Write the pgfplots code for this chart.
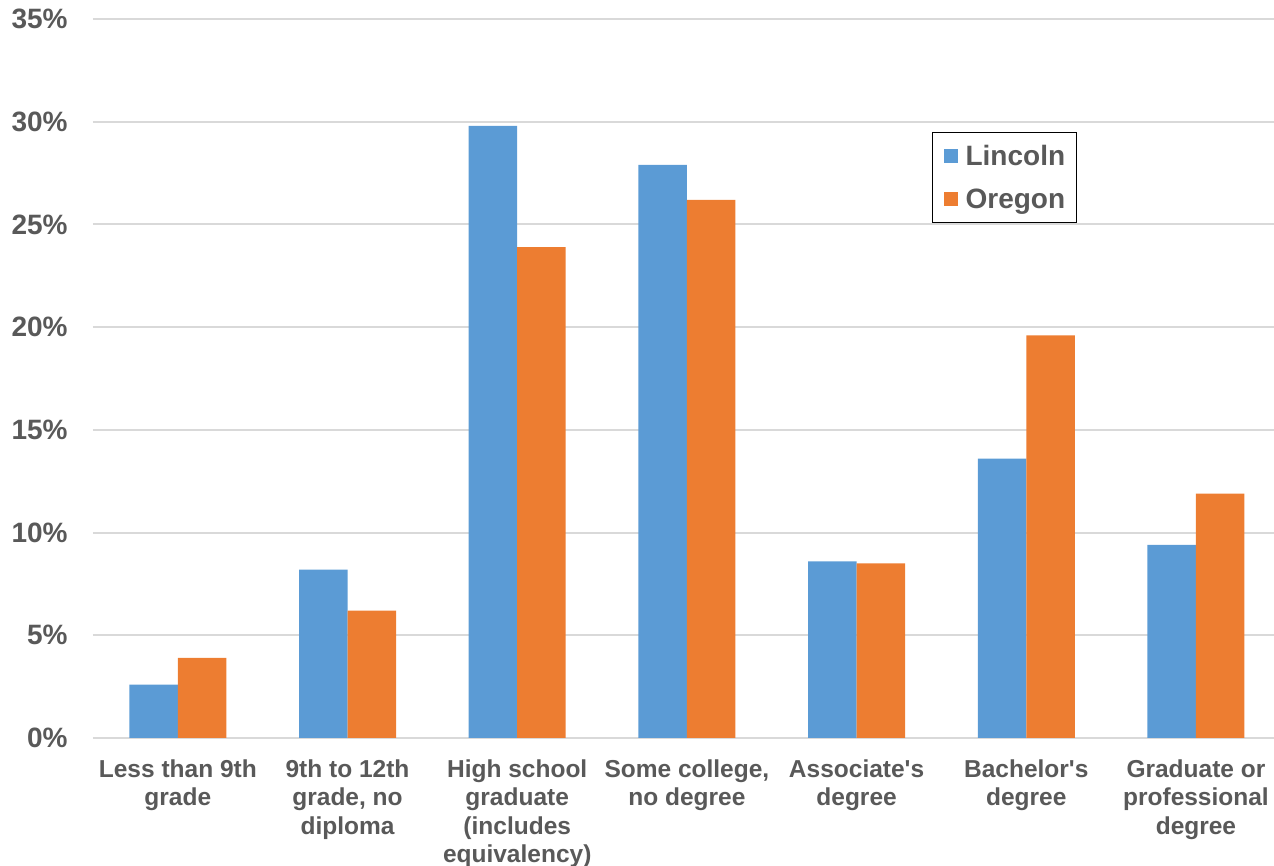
\documentclass[border=0pt]{standalone}
\usepackage{fontspec}
\setmainfont{Liberation Sans}
\usepackage{pgfplots}
\pgfplotsset{compat=1.18}
\definecolor{lincoln}{HTML}{5B9BD5}
\definecolor{oregon}{HTML}{ED7D31}
\definecolor{txt}{HTML}{595959}
\definecolor{gridc}{HTML}{D9D9D9}
\begin{document}
\begin{tikzpicture}
\useasboundingbox (-46.5pt,-64pt) rectangle (590.5pt,369pt);
\begin{axis}[
  at={(0,0)}, anchor=south west,
  scale only axis, width=590.5pt, height=359.5pt,
  ybar=0pt, bar width=24.25pt,
  xmin=-0.5, xmax=6.46, ymin=0, ymax=35,
  xtick={0,...,6},
  xticklabels={{Less than 9th\\grade},{9th to 12th\\grade, no\\diploma},{High school\\graduate\\(includes\\equivalency)},{Some college,\\no degree},{Associate\textquotesingle s\\degree},{Bachelor\textquotesingle s\\degree},{Graduate or\\professional\\degree}},
  ytick={0,5,...,35},
  yticklabel={\pgfmathprintnumber{\tick}\%},
  /pgf/number format/assume math mode=true,
  axis line style={draw=none},
  major tick length=0pt,
  ymajorgrids, major grid style={draw=gridc, line width=1pt},
  xticklabel style={align=center, font=\fontsize{12.25}{14.25}\selectfont\bfseries, text=txt, inner sep=0pt, anchor=north, yshift=-10.5pt},
  yticklabel style={font=\fontsize{14}{16}\selectfont\bfseries, text=txt, inner sep=0pt, anchor=east, xshift=-12.5pt},
  legend style={at={(0.7104,0.8428)}, anchor=north west, draw=black, line width=0.6pt,
    font=\fontsize{14}{16}\selectfont\bfseries, text=txt,
    inner xsep=5.5pt, inner ysep=6pt, row sep=10pt,
    nodes={inner sep=0pt, text height=10.5pt, text depth=1pt},
    /tikz/every odd column/.append style={column sep=4pt}},
  legend image code/.code={\fill[#1] (0pt,-3.5pt) rectangle (7pt,3.5pt);},
  legend cell align=left,
]
\addplot[fill=lincoln, draw=none] coordinates {(0,2.6) (1,8.2) (2,29.8) (3,27.9) (4,8.6) (5,13.6) (6,9.4)};
\addplot[fill=oregon, draw=none] coordinates {(0,3.9) (1,6.2) (2,23.9) (3,26.2) (4,8.5) (5,19.6) (6,11.9)};
\legend{Lincoln, Oregon}
\end{axis}
\end{tikzpicture}
\end{document}
